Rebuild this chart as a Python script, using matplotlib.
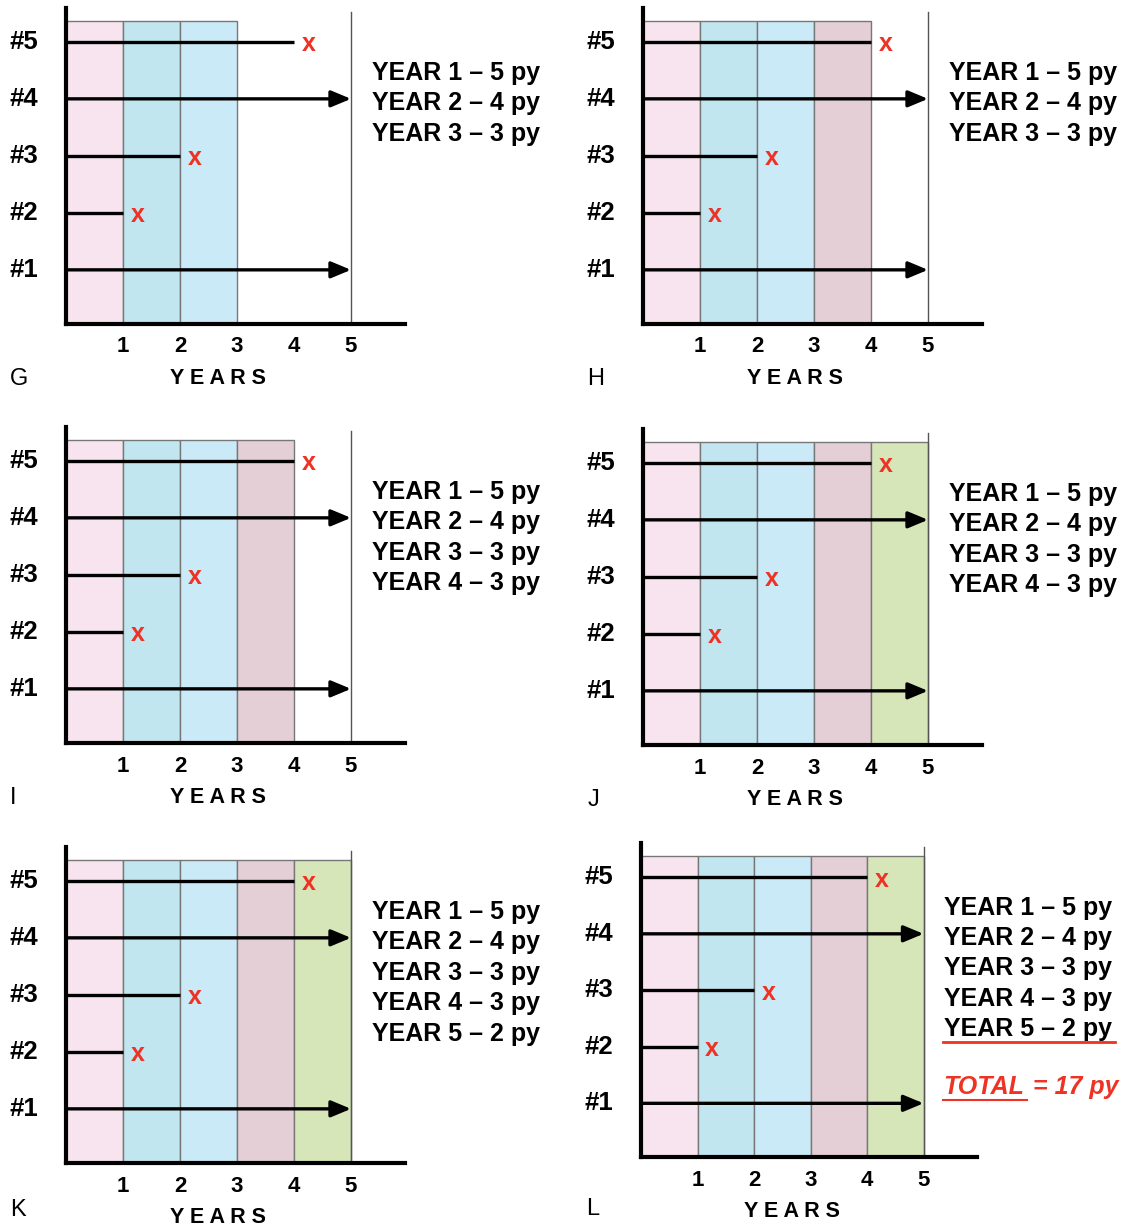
import matplotlib.pyplot as plt

plt.rcParams['font.family'] = ['Liberation Sans', 'DejaVu Sans']

# subjects followed over 5 years
subjects = ['#1', '#2', '#3', '#4', '#5']
follow_end = [5, 1, 2, 5, 4]          # year where follow-up stops
died = [False, True, True, False, True]
years = [1, 2, 3, 4, 5]
py_per_year = [5, 4, 3, 3, 2]
total_py = 17

panel_letters = ['G', 'H', 'I', 'J', 'K', 'L']
panel_bands = [3, 4, 4, 5, 5, 5]      # shaded years per panel
panel_lines = [3, 3, 4, 4, 5, 5]      # legend lines per panel

band_colors = ['#f7e4ef', '#c2e6ef', '#cbeaf8', '#e5cfd6', '#d6e6b9']
red = '#ee3224'

W, H = 1131, 1226
# (origin x px, origin y px, px per year, panel letter y)
origins = [(66, 324, 57, -0.96), (643, 324, 57, -0.96), (66, 743, 57, -0.96),
           (643, 745, 57, -0.96), (66, 1163, 57, -0.82), (641, 1157, 56.5, -0.92)]

fig = plt.figure(figsize=(W / 100, H / 100), dpi=100)

for k, (ox, oy, u, ly) in enumerate(origins):
    ax = fig.add_axes([ox / W, (H - oy) / H, 5.95 * u / W, 5.55 * u / H])
    ax.set_xlim(0, 5.95)
    ax.set_ylim(0, 5.55)
    ax.patch.set_alpha(0)
    for s in ['top', 'right']:
        ax.spines[s].set_visible(False)
    ax.spines['left'].set_linewidth(3)
    ax.spines['bottom'].set_linewidth(3)
    ax.set_yticks([])
    ax.set_xticks(years)
    ax.set_xticklabels([str(y) for y in years], fontsize=16, fontweight='bold')
    ax.tick_params(axis='x', length=0, pad=9)

    nb = panel_bands[k]
    ax.bar([y - 0.5 for y in years[:nb]], [5.32] * nb, width=1,
           color=band_colors[:nb], edgecolor='#777777', linewidth=1, zorder=1)
    ax.plot([5, 5], [0, 5.48], color='#555555', lw=1, zorder=1)

    for i, name in enumerate(subjects):
        y = i + 0.95
        if died[i]:
            ax.plot([0, follow_end[i]], [y, y], color='black', lw=2.4,
                    solid_capstyle='butt', zorder=3)
            ax.text(follow_end[i] + 0.26, y - 0.04, 'x', color=red,
                    fontsize=18, fontweight='bold', ha='center', va='center')
        else:
            ax.annotate('', xy=(follow_end[i], y), xytext=(0, y),
                        arrowprops=dict(arrowstyle='-|>,head_length=0.6,head_width=0.25',
                                        lw=2.4, color='black', mutation_scale=20,
                                        shrinkA=0, shrinkB=0), zorder=3)
        ax.text(-0.74, y, name, fontsize=18.5, fontweight='bold',
                ha='center', va='center', clip_on=False)

    for j in range(panel_lines[k]):
        ax.text(5.37, 4.41 - 0.535 * j,
                f'YEAR {years[j]} \u2013 {py_per_year[j]} py',
                fontsize=18, fontweight='bold', ha='left', va='center',
                clip_on=False)

    ax.text(2.67, -0.96, 'Y E A R S', fontsize=15.5, fontweight='bold',
            ha='center', va='center', clip_on=False)
    ax.text(-0.98, ly, panel_letters[k], fontsize=17,
            ha='left', va='center', clip_on=False)

    if panel_letters[k] == 'L':
        ax.plot([5.35, 8.39], [2.04, 2.04], color=red, lw=2, clip_on=False)
        ax.text(5.35, 1.24, 'TOTAL', color=red, fontsize=18,
                fontweight='bold', style='italic', ha='left', va='center',
                clip_on=False)
        ax.text(6.93, 1.24, f'= {total_py} py', color=red, fontsize=18,
                fontweight='bold', style='italic', ha='left', va='center',
                clip_on=False)
        ax.plot([5.35, 6.83], [1.01, 1.01], color=red, lw=1.5, clip_on=False)

fig.savefig('out.png', dpi=100)
